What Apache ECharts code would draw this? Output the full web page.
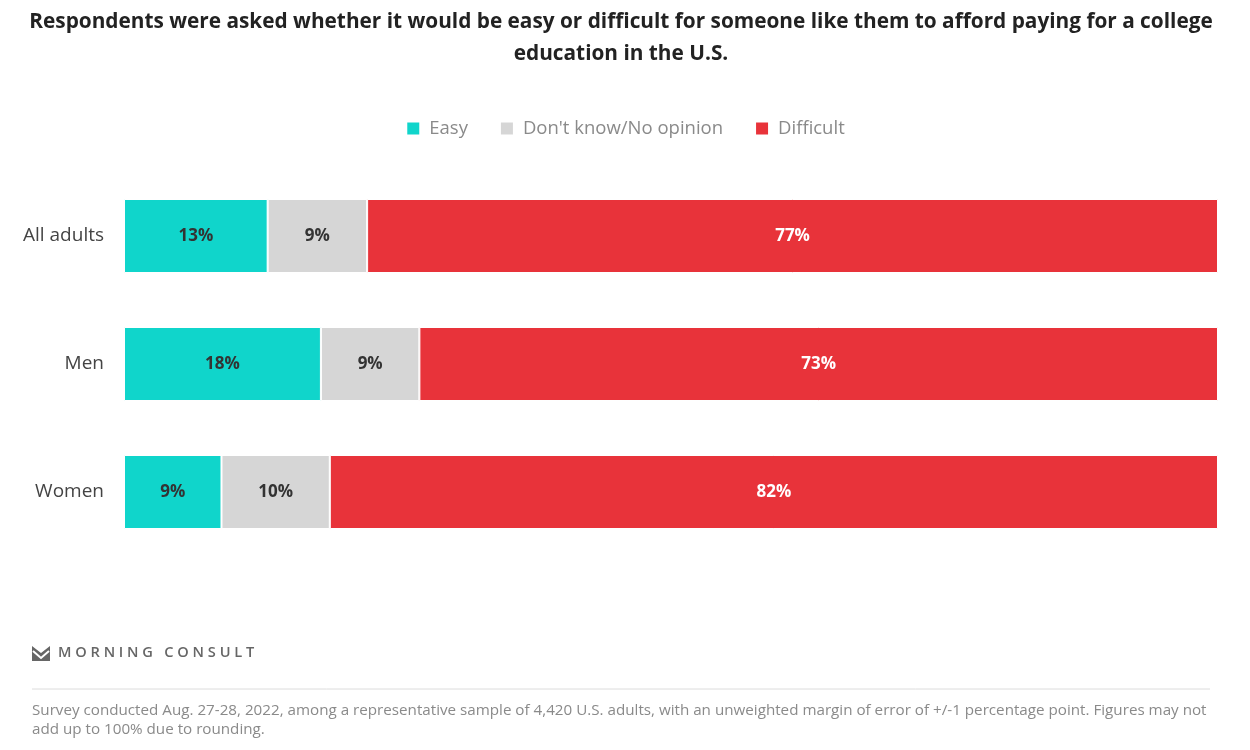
<!DOCTYPE html>
<html>
<head>
<meta charset="utf-8">
<script src="https://cdn.jsdelivr.net/npm/echarts@6/dist/echarts.min.js"></script>
<style>
  html, body { margin: 0; padding: 0; background: #fff; }
  #chart { width: 1250px; height: 750px; }
</style>
</head>
<body>
<div id="chart"></div>
<script>
const groups = ['All adults', 'Men', 'Women']
const easy = [13, 18, 9]
const dontKnow = [9, 9, 10]
const difficult = [77, 73, 82]
const seriesNames = ['Easy', "Don't know/No opinion", 'Difficult']
const colors = ['#10d5cb', '#d6d6d6', '#e8333a']

// rows are drawn as shares of their own total so every bar fills the width
const totals = groups.map((g, i) => easy[i] + dontKnow[i] + difficult[i])
const share = (arr) => arr.map((v, i) => ({ value: v / totals[i] * 100, raw: v }))

const font = 'Open Sans'

function makeSeries(name, arr, color, labelColor) {
  return {
    name: name,
    type: 'bar',
    stack: 'total',
    barWidth: 74,
    data: share(arr),
    itemStyle: { color: color, borderColor: '#fff', borderWidth: 1 },
    label: {
      show: true,
      position: 'inside',
      formatter: (p) => p.data.raw + '%',
      color: labelColor,
      fontFamily: font,
      fontWeight: 'bold',
      fontSize: 17
    },
    emphasis: { disabled: true }
  }
}

const chart = echarts.init(document.getElementById('chart'))
chart.setOption({
  animation: false,
  legend: {
    top: 114,
    left: 'center',
    itemWidth: 14,
    itemHeight: 14,
    itemGap: 31,
    icon: 'rect',
    selectedMode: false,
    textStyle: { fontFamily: font, fontSize: 18.5, color: '#8a8a8a', padding: [0, 0, 0, 4] },
    data: seriesNames
  },
  grid: { left: 124, right: 32, top: 172, height: 384 },
  xAxis: {
    type: 'value',
    min: 0,
    max: 100,
    show: false
  },
  yAxis: {
    type: 'category',
    inverse: true,
    data: groups,
    axisLine: { show: false },
    axisTick: { show: false },
    axisLabel: { fontFamily: font, fontSize: 19, color: '#444', margin: 20 }
  },
  series: [
    makeSeries(seriesNames[0], easy, colors[0], '#333'),
    makeSeries(seriesNames[1], dontKnow, colors[1], '#333'),
    makeSeries(seriesNames[2], difficult, colors[2], '#fff')
  ],
  graphic: [
    {
      type: 'text',
      x: 621,
      y: 6,
      style: {
        text: 'Respondents were asked whether it would be easy or difficult for someone like them to afford paying for a college\neducation in the U.S.',
        align: 'center',
        fontFamily: font,
        fontWeight: 'bold',
        fontSize: 20.8,
        lineHeight: 32,
        fill: '#222'
      }
    },
    {
      type: 'polygon',
      shape: { points: [[32, 646], [41, 653], [50, 646], [50, 661], [32, 661]] },
      style: { fill: '#666' }
    },
    {
      type: 'polyline',
      shape: { points: [[33, 651], [41, 658], [49, 651]] },
      style: { stroke: '#fff', lineWidth: 2, fill: null }
    },
    {
      type: 'text',
      left: 58,
      top: 645,
      style: {
        text: 'M O R N I N G   C O N S U L T',
        fontFamily: font,
        fontWeight: 600,
        fontSize: 14.6,
        fill: '#666'
      }
    },
    {
      type: 'line',
      shape: { x1: 32, y1: 689, x2: 1210, y2: 689 },
      style: { stroke: '#dcdcdc', lineWidth: 1 }
    },
    {
      type: 'text',
      left: 32,
      top: 701,
      style: {
        text: 'Survey conducted Aug. 27-28, 2022, among a representative sample of 4,420 U.S. adults, with an unweighted margin of error of +/-1 percentage point. Figures may not\nadd up to 100% due to rounding.',
        fontFamily: font,
        fontSize: 15.2,
        lineHeight: 19,
        fill: '#8a8a8a'
      }
    }
  ]
})
</script>
</body>
</html>
